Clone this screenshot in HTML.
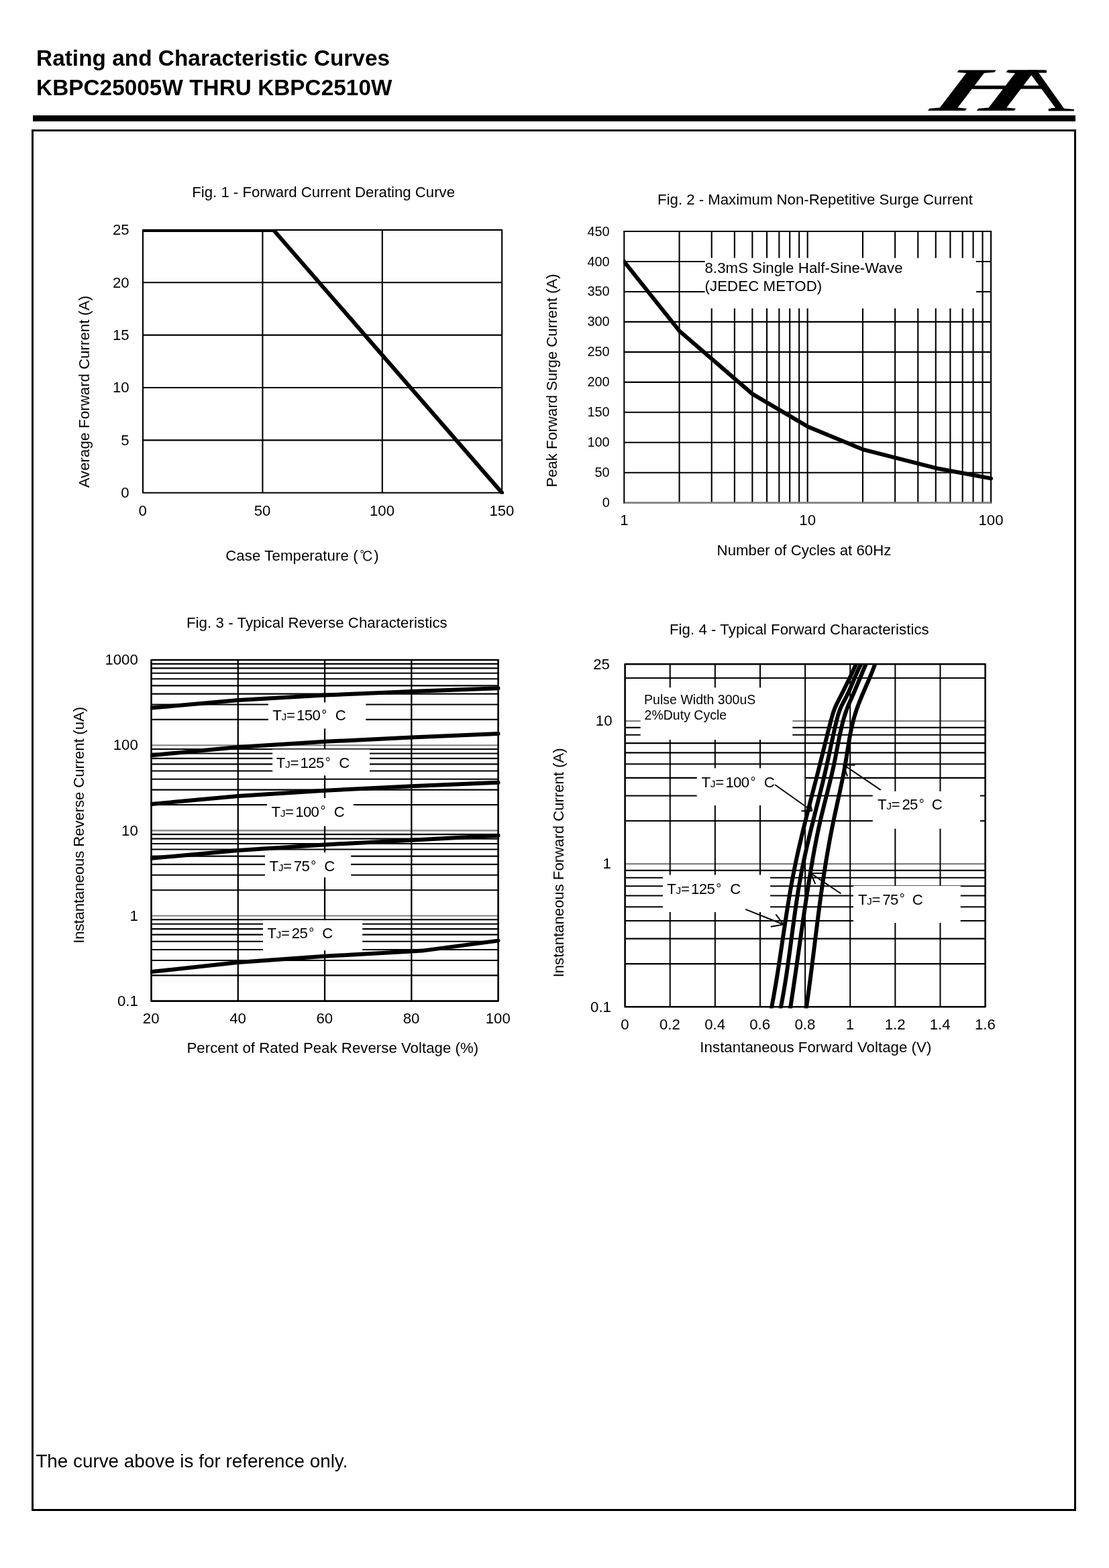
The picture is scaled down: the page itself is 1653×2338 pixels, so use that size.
<!DOCTYPE html>
<html lang="en">
<head>
<meta charset="utf-8">
<title>Rating and Characteristic Curves - KBPC25005W THRU KBPC2510W</title>
<style>
html,body{margin:0;padding:0;background:#fff;}
body{width:1653px;height:2338px;overflow:hidden;}
svg{display:block;}
svg text{font-family:"Liberation Sans",sans-serif;fill:#000;white-space:pre;}
</style>
</head>
<body>
<svg width="1653" height="2338" viewBox="0 0 1653 2338">
<rect x="0" y="0" width="1653" height="2338" fill="#fff"/>
<text transform="translate(54.07 97.90)" font-size="33.3" font-weight="bold" style="letter-spacing:0.046px">Rating and Characteristic Curves</text>
<text transform="translate(54.07 141.90)" font-size="33.3" font-weight="bold" style="letter-spacing:0.047px">KBPC25005W THRU KBPC2510W</text>
<rect x="49.00" y="172.00" width="1554.00" height="9.00" fill="#000"/>
<rect x="48.5" y="194.5" width="1554" height="2057" fill="none" stroke="#000" stroke-width="3"/>
<text transform="translate(1379.9 165.1) skewX(-37.4) scale(1.87 1)" font-size="92.4" style="font-family:'Liberation Serif',serif;font-weight:bold">H</text>
<clipPath id="cA"><polygon points="1531.7,104.4 1566,104.4 1601,158 1601,168 1562.8,168 1562.8,161.0 1573.2,161.0"/></clipPath>
<g clip-path="url(#cA)"><text transform="translate(1472.9 165.1) scale(1.936 1)" font-size="92.4" style="font-family:'Liberation Serif',serif;font-weight:normal">A</text></g>
<polygon points="1448.79,132.6 1495.02,132.6 1491.51,137.2 1445.27,137.2" fill="#fff"/>
<rect x="1449.70" y="127.60" width="107.30" height="5.00" fill="#000"/>
<rect x="1503.30" y="104.60" width="56.70" height="4.00" fill="#000"/>
<text transform="translate(286.28 293.80)" font-size="22.2" style="letter-spacing:-0.011px">Fig. 1 - Forward Current Derating Curve</text>
<line x1="391.40" y1="342.90" x2="391.40" y2="734.80" stroke="#000" stroke-width="2.1"/>
<line x1="569.80" y1="342.90" x2="569.80" y2="734.80" stroke="#000" stroke-width="2.1"/>
<line x1="213.00" y1="421.28" x2="748.20" y2="421.28" stroke="#000" stroke-width="2.1"/>
<line x1="213.00" y1="499.66" x2="748.20" y2="499.66" stroke="#000" stroke-width="2.1"/>
<line x1="213.00" y1="578.04" x2="748.20" y2="578.04" stroke="#000" stroke-width="2.1"/>
<line x1="213.00" y1="656.42" x2="748.20" y2="656.42" stroke="#000" stroke-width="2.1"/>
<rect x="213.00" y="342.90" width="535.20" height="391.90" fill="none" stroke="#000" stroke-width="2.1" stroke-linejoin="round"/>
<text x="192.60" y="350.30" font-size="22.2" text-anchor="end">25</text>
<text x="192.60" y="428.68" font-size="22.2" text-anchor="end">20</text>
<text x="192.60" y="507.06" font-size="22.2" text-anchor="end">15</text>
<text x="192.60" y="585.44" font-size="22.2" text-anchor="end">10</text>
<text x="192.60" y="663.82" font-size="22.2" text-anchor="end">5</text>
<text x="192.60" y="742.20" font-size="22.2" text-anchor="end">0</text>
<text x="212.70" y="769.30" font-size="22.2" text-anchor="middle">0</text>
<text x="391.10" y="769.30" font-size="22.2" text-anchor="middle">50</text>
<text x="569.50" y="769.30" font-size="22.2" text-anchor="middle">100</text>
<text x="747.90" y="769.30" font-size="22.2" text-anchor="middle">150</text>
<clipPath id="c1"><rect x="212.00" y="342.00" width="539.20" height="394.80"/></clipPath>
<polyline points="213.00,342.90 407.60,342.90 748.20,734.80" fill="none" stroke="#000" stroke-width="6.0" stroke-linejoin="round" stroke-linecap="round" clip-path="url(#c1)"/>
<text transform="translate(133.00 727.34) rotate(-90)" font-size="22.2" style="letter-spacing:0.034px">Average Forward Current (A)</text>
<text transform="translate(336.17 835.70)" font-size="22.2" style="letter-spacing:0.105px">Case Temperature (<tspan x="200.13" dy="0.9" font-size="20.5" style="font-family:'IPAGothic','Noto Sans CJK JP','Liberation Sans',sans-serif">℃</tspan><tspan x="221.10" dy="-0.9">)</tspan></text>
<text transform="translate(980.08 304.50)" font-size="22.2">Fig. 2 - Maximum Non-Repetitive Surge Current</text>
<line x1="1012.59" y1="345.05" x2="1012.59" y2="749.65" stroke="#000" stroke-width="2.1"/>
<line x1="1060.73" y1="345.05" x2="1060.73" y2="749.65" stroke="#000" stroke-width="2.1"/>
<line x1="1094.89" y1="345.05" x2="1094.89" y2="749.65" stroke="#000" stroke-width="2.1"/>
<line x1="1121.38" y1="345.05" x2="1121.38" y2="749.65" stroke="#000" stroke-width="2.1"/>
<line x1="1143.03" y1="345.05" x2="1143.03" y2="749.65" stroke="#000" stroke-width="2.1"/>
<line x1="1161.33" y1="345.05" x2="1161.33" y2="749.65" stroke="#000" stroke-width="2.1"/>
<line x1="1177.18" y1="345.05" x2="1177.18" y2="749.65" stroke="#000" stroke-width="2.1"/>
<line x1="1191.17" y1="345.05" x2="1191.17" y2="749.65" stroke="#000" stroke-width="2.1"/>
<line x1="1203.67" y1="345.05" x2="1203.67" y2="749.65" stroke="#000" stroke-width="2.1"/>
<line x1="1285.97" y1="345.05" x2="1285.97" y2="749.65" stroke="#000" stroke-width="2.1"/>
<line x1="1334.11" y1="345.05" x2="1334.11" y2="749.65" stroke="#000" stroke-width="2.1"/>
<line x1="1368.26" y1="345.05" x2="1368.26" y2="749.65" stroke="#000" stroke-width="2.1"/>
<line x1="1394.76" y1="345.05" x2="1394.76" y2="749.65" stroke="#000" stroke-width="2.1"/>
<line x1="1416.40" y1="345.05" x2="1416.40" y2="749.65" stroke="#000" stroke-width="2.1"/>
<line x1="1434.70" y1="345.05" x2="1434.70" y2="749.65" stroke="#000" stroke-width="2.1"/>
<line x1="1450.56" y1="345.05" x2="1450.56" y2="749.65" stroke="#000" stroke-width="2.1"/>
<line x1="1464.54" y1="345.05" x2="1464.54" y2="749.65" stroke="#000" stroke-width="2.1"/>
<line x1="930.30" y1="390.01" x2="1477.05" y2="390.01" stroke="#000" stroke-width="2.1"/>
<line x1="930.30" y1="434.96" x2="1477.05" y2="434.96" stroke="#000" stroke-width="2.1"/>
<line x1="930.30" y1="479.92" x2="1477.05" y2="479.92" stroke="#000" stroke-width="2.1"/>
<line x1="930.30" y1="524.87" x2="1477.05" y2="524.87" stroke="#000" stroke-width="2.1"/>
<line x1="930.30" y1="569.83" x2="1477.05" y2="569.83" stroke="#000" stroke-width="2.1"/>
<line x1="930.30" y1="614.78" x2="1477.05" y2="614.78" stroke="#000" stroke-width="2.1"/>
<line x1="930.30" y1="659.74" x2="1477.05" y2="659.74" stroke="#000" stroke-width="2.1"/>
<line x1="930.30" y1="704.69" x2="1477.05" y2="704.69" stroke="#000" stroke-width="2.1"/>
<line x1="930.30" y1="345.05" x2="930.30" y2="750.85" stroke="#000" stroke-width="2.1"/>
<line x1="1477.05" y1="345.05" x2="1477.05" y2="750.85" stroke="#000" stroke-width="2.1"/>
<line x1="929.25" y1="345.05" x2="1478.10" y2="345.05" stroke="#000" stroke-width="2.0"/>
<line x1="930.90" y1="749.55" x2="1477.25" y2="749.55" stroke="#808080" stroke-width="2.8"/>
<text x="908.70" y="351.55" font-size="19.9" text-anchor="end">450</text>
<text x="908.70" y="396.51" font-size="19.9" text-anchor="end">400</text>
<text x="908.70" y="441.46" font-size="19.9" text-anchor="end">350</text>
<text x="908.70" y="486.42" font-size="19.9" text-anchor="end">300</text>
<text x="908.70" y="531.37" font-size="19.9" text-anchor="end">250</text>
<text x="908.70" y="576.33" font-size="19.9" text-anchor="end">200</text>
<text x="908.70" y="621.28" font-size="19.9" text-anchor="end">150</text>
<text x="908.70" y="666.24" font-size="19.9" text-anchor="end">100</text>
<text x="908.70" y="711.19" font-size="19.9" text-anchor="end">50</text>
<text x="908.70" y="756.15" font-size="19.9" text-anchor="end">0</text>
<text x="930.30" y="783.10" font-size="22.2" text-anchor="middle">1</text>
<text x="1203.67" y="783.10" font-size="22.2" text-anchor="middle">10</text>
<text x="1477.05" y="783.10" font-size="22.2" text-anchor="middle">100</text>
<clipPath id="c2"><rect x="929.20" y="343.00" width="551.80" height="409.00"/></clipPath>
<polyline points="930.30,390.01 1012.59,493.40 1121.38,587.36 1203.67,635.91 1285.97,670.08 1394.76,697.95 1477.05,713.42" fill="none" stroke="#000" stroke-width="6.0" stroke-linejoin="round" stroke-linecap="round" clip-path="url(#c2)"/>
<rect x="1050.60" y="384.70" width="404.40" height="75.10" fill="#fff"/>
<text transform="translate(1050.44 406.80)" font-size="22.2" style="letter-spacing:0.093px">8.3mS Single Half-Sine-Wave</text>
<text transform="translate(1050.52 433.90)" font-size="22.2" style="letter-spacing:0.105px">(JEDEC METOD)</text>
<text transform="translate(830.00 726.62) rotate(-90)" font-size="22.2" style="letter-spacing:-0.036px">Peak Forward Surge Current (A)</text>
<text transform="translate(1068.58 828.00)" font-size="22.2" style="letter-spacing:0.036px">Number of Cycles at 60Hz</text>
<text transform="translate(277.98 935.70)" font-size="22.2" style="letter-spacing:0.081px">Fig. 3 - Typical Reverse Characteristics</text>
<line x1="225.50" y1="989.88" x2="742.60" y2="989.88" stroke="#000" stroke-width="2.1"/>
<line x1="225.50" y1="996.38" x2="742.60" y2="996.38" stroke="#000" stroke-width="2.1"/>
<line x1="225.50" y1="1003.75" x2="742.60" y2="1003.75" stroke="#000" stroke-width="2.1"/>
<line x1="225.50" y1="1012.26" x2="742.60" y2="1012.26" stroke="#000" stroke-width="2.1"/>
<line x1="225.50" y1="1022.33" x2="742.60" y2="1022.33" stroke="#000" stroke-width="2.1"/>
<line x1="225.50" y1="1034.65" x2="742.60" y2="1034.65" stroke="#000" stroke-width="2.1"/>
<line x1="225.50" y1="1050.54" x2="742.60" y2="1050.54" stroke="#000" stroke-width="2.1"/>
<line x1="225.50" y1="1072.92" x2="742.60" y2="1072.92" stroke="#000" stroke-width="2.1"/>
<line x1="225.50" y1="1117.01" x2="742.60" y2="1117.01" stroke="#000" stroke-width="2.1"/>
<line x1="225.50" y1="1123.52" x2="742.60" y2="1123.52" stroke="#000" stroke-width="2.1"/>
<line x1="225.50" y1="1130.89" x2="742.60" y2="1130.89" stroke="#000" stroke-width="2.1"/>
<line x1="225.50" y1="1139.40" x2="742.60" y2="1139.40" stroke="#000" stroke-width="2.1"/>
<line x1="225.50" y1="1149.47" x2="742.60" y2="1149.47" stroke="#000" stroke-width="2.1"/>
<line x1="225.50" y1="1161.79" x2="742.60" y2="1161.79" stroke="#000" stroke-width="2.1"/>
<line x1="225.50" y1="1177.67" x2="742.60" y2="1177.67" stroke="#000" stroke-width="2.1"/>
<line x1="225.50" y1="1200.06" x2="742.60" y2="1200.06" stroke="#000" stroke-width="2.1"/>
<line x1="225.50" y1="1244.15" x2="742.60" y2="1244.15" stroke="#000" stroke-width="2.1"/>
<line x1="225.50" y1="1250.65" x2="742.60" y2="1250.65" stroke="#000" stroke-width="2.1"/>
<line x1="225.50" y1="1258.02" x2="742.60" y2="1258.02" stroke="#000" stroke-width="2.1"/>
<line x1="225.50" y1="1266.53" x2="742.60" y2="1266.53" stroke="#000" stroke-width="2.1"/>
<line x1="225.50" y1="1276.60" x2="742.60" y2="1276.60" stroke="#000" stroke-width="2.1"/>
<line x1="225.50" y1="1288.92" x2="742.60" y2="1288.92" stroke="#000" stroke-width="2.1"/>
<line x1="225.50" y1="1304.81" x2="742.60" y2="1304.81" stroke="#000" stroke-width="2.1"/>
<line x1="225.50" y1="1327.19" x2="742.60" y2="1327.19" stroke="#000" stroke-width="2.1"/>
<line x1="225.50" y1="1371.28" x2="742.60" y2="1371.28" stroke="#000" stroke-width="2.1"/>
<line x1="225.50" y1="1377.79" x2="742.60" y2="1377.79" stroke="#000" stroke-width="2.1"/>
<line x1="225.50" y1="1385.16" x2="742.60" y2="1385.16" stroke="#000" stroke-width="2.1"/>
<line x1="225.50" y1="1393.67" x2="742.60" y2="1393.67" stroke="#000" stroke-width="2.1"/>
<line x1="225.50" y1="1403.74" x2="742.60" y2="1403.74" stroke="#000" stroke-width="2.1"/>
<line x1="225.50" y1="1416.06" x2="742.60" y2="1416.06" stroke="#000" stroke-width="2.1"/>
<line x1="225.50" y1="1431.94" x2="742.60" y2="1431.94" stroke="#000" stroke-width="2.1"/>
<line x1="225.50" y1="1454.33" x2="742.60" y2="1454.33" stroke="#000" stroke-width="2.1"/>
<line x1="225.50" y1="1111.19" x2="742.60" y2="1111.19" stroke="#808080" stroke-width="2.1"/>
<line x1="225.50" y1="1238.33" x2="742.60" y2="1238.33" stroke="#808080" stroke-width="2.1"/>
<line x1="225.50" y1="1365.46" x2="742.60" y2="1365.46" stroke="#808080" stroke-width="2.1"/>
<line x1="354.77" y1="984.06" x2="354.77" y2="1492.60" stroke="#000" stroke-width="2.3"/>
<line x1="484.05" y1="984.06" x2="484.05" y2="1492.60" stroke="#000" stroke-width="2.3"/>
<line x1="613.33" y1="984.06" x2="613.33" y2="1492.60" stroke="#000" stroke-width="2.3"/>
<rect x="225.50" y="984.06" width="517.10" height="508.54" fill="none" stroke="#000" stroke-width="2.6" stroke-linejoin="round"/>
<text x="205.80" y="991.36" font-size="22.2" text-anchor="end">1000</text>
<text x="205.80" y="1118.49" font-size="22.2" text-anchor="end">100</text>
<text x="205.80" y="1245.63" font-size="22.2" text-anchor="end">10</text>
<text x="205.80" y="1372.76" font-size="22.2" text-anchor="end">1</text>
<text x="205.80" y="1499.90" font-size="22.2" text-anchor="end">0.1</text>
<text x="225.20" y="1525.70" font-size="22.2" text-anchor="middle">20</text>
<text x="354.47" y="1525.70" font-size="22.2" text-anchor="middle">40</text>
<text x="483.75" y="1525.70" font-size="22.2" text-anchor="middle">60</text>
<text x="613.03" y="1525.70" font-size="22.2" text-anchor="middle">80</text>
<text x="742.30" y="1525.70" font-size="22.2" text-anchor="middle">100</text>
<clipPath id="c3"><rect x="224.20" y="982.00" width="521.60" height="513.00"/></clipPath>
<polyline points="225.50,1055.60 354.77,1044.00 484.05,1036.60 613.33,1031.10 742.60,1026.20" fill="none" stroke="#000" stroke-width="6.0" stroke-linejoin="round" stroke-linecap="round" clip-path="url(#c3)"/>
<polyline points="225.50,1126.20 354.77,1113.90 484.05,1105.80 613.33,1099.60 742.60,1094.00" fill="none" stroke="#000" stroke-width="6.0" stroke-linejoin="round" stroke-linecap="round" clip-path="url(#c3)"/>
<polyline points="225.50,1199.00 354.77,1187.00 484.05,1178.80 613.33,1172.20 742.60,1166.70" fill="none" stroke="#000" stroke-width="6.0" stroke-linejoin="round" stroke-linecap="round" clip-path="url(#c3)"/>
<polyline points="225.50,1279.80 354.77,1268.00 484.05,1259.40 613.33,1252.70 742.60,1245.80" fill="none" stroke="#000" stroke-width="6.0" stroke-linejoin="round" stroke-linecap="round" clip-path="url(#c3)"/>
<polyline points="225.50,1449.10 354.77,1435.10 484.05,1425.70 613.33,1418.60 629.48,1417.60 742.60,1402.60" fill="none" stroke="#000" stroke-width="6.0" stroke-linejoin="round" stroke-linecap="round" clip-path="url(#c3)"/>
<rect x="399.90" y="1047.40" width="145.40" height="39.00" fill="#fff"/>
<text transform="translate(406.30 1074.30)" font-size="22.2"><tspan x="0">T</tspan><tspan x="13.16" font-size="15.54">J</tspan><tspan x="20.61">=</tspan><tspan x="35.81" style="letter-spacing:-0.7px">150</tspan><tspan x="72.99" dy="-1.2" font-size="19.98">°</tspan><tspan x="87.30" dy="1.2"> C</tspan></text>
<rect x="406.20" y="1117.50" width="144.80" height="38.80" fill="#fff"/>
<text transform="translate(411.80 1145.40)" font-size="22.2"><tspan x="0">T</tspan><tspan x="13.16" font-size="15.54">J</tspan><tspan x="20.61">=</tspan><tspan x="35.81" style="letter-spacing:-0.7px">125</tspan><tspan x="72.93" dy="-1.2" font-size="19.98">°</tspan><tspan x="87.20" dy="1.2"> C</tspan></text>
<rect x="398.00" y="1190.00" width="129.00" height="41.80" fill="#fff"/>
<text transform="translate(404.50 1217.60)" font-size="22.2"><tspan x="0">T</tspan><tspan x="13.16" font-size="15.54">J</tspan><tspan x="20.61">=</tspan><tspan x="35.81" style="letter-spacing:-0.7px">100</tspan><tspan x="72.99" dy="-1.2" font-size="19.98">°</tspan><tspan x="87.00" dy="1.2"> C</tspan></text>
<rect x="395.00" y="1271.20" width="128.20" height="37.00" fill="#fff"/>
<text transform="translate(401.50 1299.00)" font-size="22.2"><tspan x="0">T</tspan><tspan x="13.16" font-size="15.54">J</tspan><tspan x="20.61">=</tspan><tspan x="36.36" style="letter-spacing:-0.7px">75</tspan><tspan x="61.83" dy="-1.2" font-size="19.98">°</tspan><tspan x="75.50" dy="1.2"> C</tspan></text>
<rect x="392.00" y="1372.20" width="148.20" height="44.90" fill="#fff"/>
<text transform="translate(398.40 1398.90)" font-size="22.2"><tspan x="0">T</tspan><tspan x="13.16" font-size="15.54">J</tspan><tspan x="20.61">=</tspan><tspan x="36.38" style="letter-spacing:-0.7px">25</tspan><tspan x="61.85" dy="-1.2" font-size="19.98">°</tspan><tspan x="75.60" dy="1.2"> C</tspan></text>
<text transform="translate(125.40 1406.75) rotate(-90)" font-size="22.2" style="letter-spacing:-0.106px">Instantaneous Reverse Current (uA)</text>
<text transform="translate(278.48 1570.00)" font-size="22.2" style="letter-spacing:0.044px">Percent of Rated Peak Reverse Voltage (%)</text>
<text transform="translate(997.98 946.20)" font-size="22.2" style="letter-spacing:0.062px">Fig. 4 - Typical Forward Characteristics</text>
<line x1="931.60" y1="1010.95" x2="1468.60" y2="1010.95" stroke="#000" stroke-width="2.1"/>
<line x1="931.60" y1="1084.84" x2="1468.60" y2="1084.84" stroke="#000" stroke-width="2.1"/>
<line x1="931.60" y1="1095.74" x2="1468.60" y2="1095.74" stroke="#000" stroke-width="2.1"/>
<line x1="931.60" y1="1108.10" x2="1468.60" y2="1108.10" stroke="#000" stroke-width="2.1"/>
<line x1="931.60" y1="1122.36" x2="1468.60" y2="1122.36" stroke="#000" stroke-width="2.1"/>
<line x1="931.60" y1="1139.24" x2="1468.60" y2="1139.24" stroke="#000" stroke-width="2.1"/>
<line x1="931.60" y1="1159.89" x2="1468.60" y2="1159.89" stroke="#000" stroke-width="2.1"/>
<line x1="931.60" y1="1186.51" x2="1468.60" y2="1186.51" stroke="#000" stroke-width="2.1"/>
<line x1="931.60" y1="1224.03" x2="1468.60" y2="1224.03" stroke="#000" stroke-width="2.1"/>
<line x1="931.60" y1="1297.92" x2="1468.60" y2="1297.92" stroke="#000" stroke-width="2.1"/>
<line x1="931.60" y1="1308.82" x2="1468.60" y2="1308.82" stroke="#000" stroke-width="2.1"/>
<line x1="931.60" y1="1321.18" x2="1468.60" y2="1321.18" stroke="#000" stroke-width="2.1"/>
<line x1="931.60" y1="1335.44" x2="1468.60" y2="1335.44" stroke="#000" stroke-width="2.1"/>
<line x1="931.60" y1="1352.31" x2="1468.60" y2="1352.31" stroke="#000" stroke-width="2.1"/>
<line x1="931.60" y1="1372.96" x2="1468.60" y2="1372.96" stroke="#000" stroke-width="2.1"/>
<line x1="931.60" y1="1399.59" x2="1468.60" y2="1399.59" stroke="#000" stroke-width="2.1"/>
<line x1="931.60" y1="1437.11" x2="1468.60" y2="1437.11" stroke="#000" stroke-width="2.1"/>
<line x1="931.60" y1="1075.09" x2="1468.60" y2="1075.09" stroke="#808080" stroke-width="2.1"/>
<line x1="931.60" y1="1288.17" x2="1468.60" y2="1288.17" stroke="#808080" stroke-width="2.1"/>
<line x1="998.73" y1="990.30" x2="998.73" y2="1501.25" stroke="#000" stroke-width="2.0"/>
<line x1="1065.85" y1="990.30" x2="1065.85" y2="1501.25" stroke="#000" stroke-width="2.0"/>
<line x1="1132.97" y1="990.30" x2="1132.97" y2="1501.25" stroke="#000" stroke-width="2.0"/>
<line x1="1200.10" y1="990.30" x2="1200.10" y2="1501.25" stroke="#000" stroke-width="2.0"/>
<line x1="1267.22" y1="990.30" x2="1267.22" y2="1501.25" stroke="#000" stroke-width="2.0"/>
<line x1="1334.35" y1="990.30" x2="1334.35" y2="1501.25" stroke="#000" stroke-width="2.0"/>
<line x1="1401.47" y1="990.30" x2="1401.47" y2="1501.25" stroke="#000" stroke-width="2.0"/>
<rect x="931.60" y="990.30" width="537.00" height="510.95" fill="none" stroke="#000" stroke-width="2.6" stroke-linejoin="round"/>
<text x="908.90" y="997.60" font-size="22.2" text-anchor="end">25</text>
<text x="912.50" y="1082.39" font-size="22.2" text-anchor="end">10</text>
<text x="910.90" y="1295.47" font-size="22.2" text-anchor="end">1</text>
<text x="910.90" y="1508.55" font-size="22.2" text-anchor="end">0.1</text>
<text x="931.30" y="1535.00" font-size="22.2" text-anchor="middle">0</text>
<text x="998.43" y="1535.00" font-size="22.2" text-anchor="middle">0.2</text>
<text x="1065.55" y="1535.00" font-size="22.2" text-anchor="middle">0.4</text>
<text x="1132.67" y="1535.00" font-size="22.2" text-anchor="middle">0.6</text>
<text x="1199.80" y="1535.00" font-size="22.2" text-anchor="middle">0.8</text>
<text x="1266.92" y="1535.00" font-size="22.2" text-anchor="middle">1</text>
<text x="1334.05" y="1535.00" font-size="22.2" text-anchor="middle">1.2</text>
<text x="1401.17" y="1535.00" font-size="22.2" text-anchor="middle">1.4</text>
<text x="1468.30" y="1535.00" font-size="22.2" text-anchor="middle">1.6</text>
<rect x="954.70" y="1025.30" width="226.60" height="77.70" fill="#fff"/>
<rect x="1038.70" y="1145.40" width="160.50" height="55.50" fill="#fff"/>
<rect x="1300.80" y="1179.90" width="160.20" height="55.70" fill="#fff"/>
<rect x="988.00" y="1304.60" width="160.10" height="55.40" fill="#fff"/>
<rect x="1272.00" y="1320.85" width="159.70" height="55.25" fill="#fff"/>
<clipPath id="c4"><rect x="929.00" y="989.00" width="542.00" height="514.55"/></clipPath>
<polyline points="1278.37,985.00 1276.58,989.00 1274.77,993.00 1272.94,997.00 1271.08,1001.00 1269.21,1005.00 1267.32,1009.00 1265.41,1013.00 1263.47,1017.00 1261.52,1021.00 1259.55,1025.00 1257.57,1029.00 1255.56,1033.00 1253.54,1037.00 1251.50,1041.00 1249.45,1045.00 1247.45,1049.00 1245.59,1053.00 1243.94,1057.00 1242.49,1061.00 1241.21,1065.00 1240.04,1069.00 1238.95,1073.00 1237.89,1077.00 1236.85,1081.00 1235.81,1085.00 1234.78,1089.00 1233.76,1093.00 1232.75,1097.00 1231.74,1101.00 1230.74,1105.00 1229.75,1109.00 1228.75,1113.00 1227.76,1117.00 1226.76,1121.00 1225.77,1125.00 1224.77,1129.00 1223.78,1133.00 1222.77,1137.00 1221.77,1141.00 1220.75,1145.00 1219.74,1149.00 1218.71,1153.00 1217.69,1157.00 1216.66,1161.00 1215.63,1165.00 1214.60,1169.00 1213.56,1173.00 1212.53,1177.00 1211.49,1181.00 1210.46,1185.00 1209.43,1189.00 1208.39,1193.00 1207.36,1197.00 1206.33,1201.00 1205.31,1205.00 1204.29,1209.00 1203.27,1213.00 1202.25,1217.00 1201.25,1221.00 1200.24,1225.00 1199.25,1229.00 1198.26,1233.00 1197.27,1237.00 1196.30,1241.00 1195.33,1245.00 1194.38,1249.00 1193.43,1253.00 1192.49,1257.00 1191.56,1261.00 1190.65,1265.00 1189.74,1269.00 1188.85,1273.00 1187.97,1277.00 1187.10,1281.00 1186.25,1285.00 1185.41,1289.00 1184.59,1293.00 1183.78,1297.00 1182.98,1301.00 1182.21,1305.00 1181.44,1309.00 1180.70,1313.00 1179.96,1317.00 1179.24,1321.00 1178.53,1325.00 1177.83,1329.00 1177.14,1333.00 1176.46,1337.00 1175.80,1341.00 1175.14,1345.00 1174.49,1349.00 1173.85,1353.00 1173.22,1357.00 1172.59,1361.00 1171.97,1365.00 1171.35,1369.00 1170.75,1373.00 1170.14,1377.00 1169.54,1381.00 1168.94,1385.00 1168.34,1389.00 1167.75,1393.00 1167.16,1397.00 1166.57,1401.00 1165.98,1405.00 1165.38,1409.00 1164.79,1413.00 1164.20,1417.00 1163.60,1421.00 1163.00,1425.00 1162.40,1429.00 1161.79,1433.00 1161.18,1437.00 1160.56,1441.00 1159.94,1445.00 1159.31,1449.00 1158.68,1453.00 1158.03,1457.00 1157.38,1461.00 1156.72,1465.00 1156.05,1469.00 1155.37,1473.00 1154.68,1477.00 1153.98,1481.00 1153.26,1485.00 1152.54,1489.00 1151.80,1493.00 1151.04,1497.00 1150.27,1501.00 1149.49,1505.00" fill="none" stroke="#000" stroke-width="6.0" stroke-linejoin="round" stroke-linecap="butt" clip-path="url(#c4)"/>
<polyline points="1286.28,985.00 1284.07,989.00 1282.00,993.00 1280.05,997.00 1278.19,1001.00 1276.40,1005.00 1274.67,1009.00 1272.98,1013.00 1271.30,1017.00 1269.61,1021.00 1267.90,1025.00 1266.15,1029.00 1264.32,1033.00 1262.41,1037.00 1260.40,1041.00 1258.27,1045.00 1256.13,1049.00 1254.12,1053.00 1252.36,1057.00 1250.86,1061.00 1249.56,1065.00 1248.42,1069.00 1247.39,1073.00 1246.40,1077.00 1245.44,1081.00 1244.51,1085.00 1243.59,1089.00 1242.69,1093.00 1241.81,1097.00 1240.93,1101.00 1240.07,1105.00 1239.21,1109.00 1238.36,1113.00 1237.51,1117.00 1236.66,1121.00 1235.81,1125.00 1234.95,1129.00 1234.08,1133.00 1233.20,1137.00 1232.31,1141.00 1231.40,1145.00 1230.49,1149.00 1229.56,1153.00 1228.61,1157.00 1227.66,1161.00 1226.70,1165.00 1225.73,1169.00 1224.75,1173.00 1223.77,1177.00 1222.78,1181.00 1221.78,1185.00 1220.78,1189.00 1219.78,1193.00 1218.77,1197.00 1217.76,1201.00 1216.75,1205.00 1215.75,1209.00 1214.74,1213.00 1213.73,1217.00 1212.73,1221.00 1211.73,1225.00 1210.73,1229.00 1209.74,1233.00 1208.76,1237.00 1207.78,1241.00 1206.81,1245.00 1205.85,1249.00 1204.90,1253.00 1203.96,1257.00 1203.03,1261.00 1202.11,1265.00 1201.21,1269.00 1200.32,1273.00 1199.44,1277.00 1198.58,1281.00 1197.74,1285.00 1196.91,1289.00 1196.11,1293.00 1195.32,1297.00 1194.55,1301.00 1193.80,1305.00 1193.07,1309.00 1192.35,1313.00 1191.65,1317.00 1190.97,1321.00 1190.31,1325.00 1189.65,1329.00 1189.02,1333.00 1188.39,1337.00 1187.78,1341.00 1187.17,1345.00 1186.58,1349.00 1186.00,1353.00 1185.43,1357.00 1184.86,1361.00 1184.30,1365.00 1183.75,1369.00 1183.20,1373.00 1182.66,1377.00 1182.13,1381.00 1181.59,1385.00 1181.06,1389.00 1180.53,1393.00 1180.00,1397.00 1179.48,1401.00 1178.95,1405.00 1178.42,1409.00 1177.89,1413.00 1177.35,1417.00 1176.81,1421.00 1176.27,1425.00 1175.72,1429.00 1175.16,1433.00 1174.60,1437.00 1174.03,1441.00 1173.45,1445.00 1172.87,1449.00 1172.27,1453.00 1171.66,1457.00 1171.04,1461.00 1170.41,1465.00 1169.76,1469.00 1169.10,1473.00 1168.42,1477.00 1167.73,1481.00 1167.03,1485.00 1166.30,1489.00 1165.56,1493.00 1164.80,1497.00 1164.02,1501.00 1163.22,1505.00" fill="none" stroke="#000" stroke-width="6.0" stroke-linejoin="round" stroke-linecap="butt" clip-path="url(#c4)"/>
<polyline points="1293.03,985.00 1291.26,989.00 1289.52,993.00 1287.81,997.00 1286.11,1001.00 1284.43,1005.00 1282.76,1009.00 1281.09,1013.00 1279.42,1017.00 1277.75,1021.00 1276.08,1025.00 1274.38,1029.00 1272.67,1033.00 1270.94,1037.00 1269.18,1041.00 1267.40,1045.00 1265.63,1049.00 1263.94,1053.00 1262.37,1057.00 1260.93,1061.00 1259.60,1065.00 1258.38,1069.00 1257.24,1073.00 1256.16,1077.00 1255.14,1081.00 1254.17,1085.00 1253.24,1089.00 1252.36,1093.00 1251.51,1097.00 1250.68,1101.00 1249.88,1105.00 1249.10,1109.00 1248.33,1113.00 1247.56,1117.00 1246.80,1121.00 1246.03,1125.00 1245.25,1129.00 1244.46,1133.00 1243.64,1137.00 1242.80,1141.00 1241.93,1145.00 1241.03,1149.00 1240.12,1153.00 1239.18,1157.00 1238.22,1161.00 1237.25,1165.00 1236.27,1169.00 1235.27,1173.00 1234.27,1177.00 1233.26,1181.00 1232.24,1185.00 1231.23,1189.00 1230.21,1193.00 1229.20,1197.00 1228.20,1201.00 1227.20,1205.00 1226.21,1209.00 1225.24,1213.00 1224.27,1217.00 1223.33,1221.00 1222.41,1225.00 1221.51,1229.00 1220.62,1233.00 1219.76,1237.00 1218.92,1241.00 1218.09,1245.00 1217.28,1249.00 1216.49,1253.00 1215.71,1257.00 1214.95,1261.00 1214.20,1265.00 1213.47,1269.00 1212.74,1273.00 1212.03,1277.00 1211.33,1281.00 1210.64,1285.00 1209.95,1289.00 1209.28,1293.00 1208.61,1297.00 1207.95,1301.00 1207.29,1305.00 1206.64,1309.00 1206.00,1313.00 1205.36,1317.00 1204.73,1321.00 1204.10,1325.00 1203.48,1329.00 1202.86,1333.00 1202.25,1337.00 1201.64,1341.00 1201.04,1345.00 1200.44,1349.00 1199.84,1353.00 1199.24,1357.00 1198.65,1361.00 1198.07,1365.00 1197.48,1369.00 1196.90,1373.00 1196.32,1377.00 1195.74,1381.00 1195.17,1385.00 1194.59,1389.00 1194.02,1393.00 1193.45,1397.00 1192.88,1401.00 1192.31,1405.00 1191.74,1409.00 1191.17,1413.00 1190.60,1417.00 1190.04,1421.00 1189.47,1425.00 1188.90,1429.00 1188.33,1433.00 1187.76,1437.00 1187.19,1441.00 1186.62,1445.00 1186.04,1449.00 1185.47,1453.00 1184.89,1457.00 1184.31,1461.00 1183.72,1465.00 1183.14,1469.00 1182.55,1473.00 1181.96,1477.00 1181.37,1481.00 1180.77,1485.00 1180.17,1489.00 1179.56,1493.00 1178.95,1497.00 1178.34,1501.00 1177.72,1505.00" fill="none" stroke="#000" stroke-width="6.0" stroke-linejoin="round" stroke-linecap="butt" clip-path="url(#c4)"/>
<polyline points="1306.02,985.00 1304.69,989.00 1303.27,993.00 1301.78,997.00 1300.22,1001.00 1298.61,1005.00 1296.95,1009.00 1295.26,1013.00 1293.55,1017.00 1291.81,1021.00 1290.07,1025.00 1288.34,1029.00 1286.62,1033.00 1284.92,1037.00 1283.26,1041.00 1281.63,1045.00 1280.07,1049.00 1278.57,1053.00 1277.15,1057.00 1275.80,1061.00 1274.54,1065.00 1273.36,1069.00 1272.25,1073.00 1271.21,1077.00 1270.24,1081.00 1269.33,1085.00 1268.48,1089.00 1267.67,1093.00 1266.91,1097.00 1266.19,1101.00 1265.50,1105.00 1264.84,1109.00 1264.19,1113.00 1263.55,1117.00 1262.93,1121.00 1262.30,1125.00 1261.66,1129.00 1261.02,1133.00 1260.35,1137.00 1259.66,1141.00 1258.95,1145.00 1258.21,1149.00 1257.45,1153.00 1256.67,1157.00 1255.87,1161.00 1255.05,1165.00 1254.22,1169.00 1253.38,1173.00 1252.53,1177.00 1251.67,1181.00 1250.80,1185.00 1249.92,1189.00 1249.05,1193.00 1248.17,1197.00 1247.29,1201.00 1246.41,1205.00 1245.54,1209.00 1244.68,1213.00 1243.82,1217.00 1242.98,1221.00 1242.14,1225.00 1241.32,1229.00 1240.51,1233.00 1239.72,1237.00 1238.93,1241.00 1238.16,1245.00 1237.40,1249.00 1236.66,1253.00 1235.92,1257.00 1235.20,1261.00 1234.49,1265.00 1233.79,1269.00 1233.10,1273.00 1232.42,1277.00 1231.75,1281.00 1231.09,1285.00 1230.44,1289.00 1229.80,1293.00 1229.18,1297.00 1228.56,1301.00 1227.94,1305.00 1227.34,1309.00 1226.75,1313.00 1226.16,1317.00 1225.59,1321.00 1225.02,1325.00 1224.45,1329.00 1223.90,1333.00 1223.34,1337.00 1222.80,1341.00 1222.26,1345.00 1221.73,1349.00 1221.20,1353.00 1220.68,1357.00 1220.16,1361.00 1219.64,1365.00 1219.13,1369.00 1218.62,1373.00 1218.12,1377.00 1217.61,1381.00 1217.11,1385.00 1216.61,1389.00 1216.12,1393.00 1215.62,1397.00 1215.13,1401.00 1214.63,1405.00 1214.14,1409.00 1213.65,1413.00 1213.15,1417.00 1212.66,1421.00 1212.16,1425.00 1211.66,1429.00 1211.17,1433.00 1210.66,1437.00 1210.16,1441.00 1209.66,1445.00 1209.15,1449.00 1208.63,1453.00 1208.12,1457.00 1207.60,1461.00 1207.07,1465.00 1206.54,1469.00 1206.01,1473.00 1205.47,1477.00 1204.92,1481.00 1204.37,1485.00 1203.81,1489.00 1203.25,1493.00 1202.68,1497.00 1202.10,1501.00 1201.51,1505.00" fill="none" stroke="#000" stroke-width="6.0" stroke-linejoin="round" stroke-linecap="butt" clip-path="url(#c4)"/>
<line x1="1155.00" y1="1170.00" x2="1210.40" y2="1209.20" stroke="#000" stroke-width="2.0"/>
<line x1="1210.40" y1="1209.20" x2="1194.40" y2="1209.20" stroke="#000" stroke-width="2.0"/>
<line x1="1210.40" y1="1209.20" x2="1206.20" y2="1192.50" stroke="#000" stroke-width="2.0"/>
<line x1="1312.70" y1="1177.90" x2="1257.20" y2="1140.40" stroke="#000" stroke-width="2.0"/>
<line x1="1257.20" y1="1140.40" x2="1263.00" y2="1157.50" stroke="#000" stroke-width="2.0"/>
<line x1="1257.20" y1="1140.40" x2="1274.50" y2="1140.80" stroke="#000" stroke-width="2.0"/>
<line x1="1111.20" y1="1355.90" x2="1167.90" y2="1378.50" stroke="#000" stroke-width="2.0"/>
<line x1="1167.90" y1="1378.50" x2="1156.30" y2="1363.30" stroke="#000" stroke-width="2.0"/>
<line x1="1167.90" y1="1378.50" x2="1148.90" y2="1381.70" stroke="#000" stroke-width="2.0"/>
<line x1="1253.50" y1="1332.50" x2="1208.40" y2="1302.10" stroke="#000" stroke-width="2.0"/>
<line x1="1208.40" y1="1302.10" x2="1215.30" y2="1318.20" stroke="#000" stroke-width="2.0"/>
<line x1="1208.40" y1="1302.10" x2="1226.40" y2="1302.10" stroke="#000" stroke-width="2.0"/>
<text transform="translate(960.00 1050.00)" font-size="19.45" style="letter-spacing:0.060px">Pulse Width 300uS</text>
<text transform="translate(960.62 1072.70)" font-size="19.45" style="letter-spacing:0.036px">2%Duty Cycle</text>
<text transform="translate(1045.60 1173.70)" font-size="22.2"><tspan x="0">T</tspan><tspan x="13.16" font-size="15.54">J</tspan><tspan x="20.61">=</tspan><tspan x="35.81" style="letter-spacing:-0.7px">100</tspan><tspan x="72.99" dy="-1.2" font-size="19.98">°</tspan><tspan x="87.10" dy="1.2"> C</tspan></text>
<text transform="translate(1308.00 1207.20)" font-size="22.2"><tspan x="0">T</tspan><tspan x="13.16" font-size="15.54">J</tspan><tspan x="20.61">=</tspan><tspan x="36.38" style="letter-spacing:-0.7px">25</tspan><tspan x="61.85" dy="-1.2" font-size="19.98">°</tspan><tspan x="74.70" dy="1.2"> C</tspan></text>
<text transform="translate(994.30 1333.00)" font-size="22.2"><tspan x="0">T</tspan><tspan x="13.16" font-size="15.54">J</tspan><tspan x="20.61">=</tspan><tspan x="35.81" style="letter-spacing:-0.7px">125</tspan><tspan x="72.93" dy="-1.2" font-size="19.98">°</tspan><tspan x="87.80" dy="1.2"> C</tspan></text>
<text transform="translate(1278.90 1348.50)" font-size="22.2"><tspan x="0">T</tspan><tspan x="13.16" font-size="15.54">J</tspan><tspan x="20.61">=</tspan><tspan x="36.36" style="letter-spacing:-0.7px">75</tspan><tspan x="61.83" dy="-1.2" font-size="19.98">°</tspan><tspan x="74.80" dy="1.2"> C</tspan></text>
<text transform="translate(840.20 1457.35) rotate(-90)" font-size="22.2" style="letter-spacing:-0.025px">Instantaneous Forward Current (A)</text>
<text transform="translate(1043.35 1568.70)" font-size="22.2" style="letter-spacing:0.065px">Instantaneous Forward Voltage (V)</text>
<text transform="translate(53.38 2188.40)" font-size="27.78" style="letter-spacing:0.027px">The curve above is for reference only.</text>
</svg>
</body>
</html>
